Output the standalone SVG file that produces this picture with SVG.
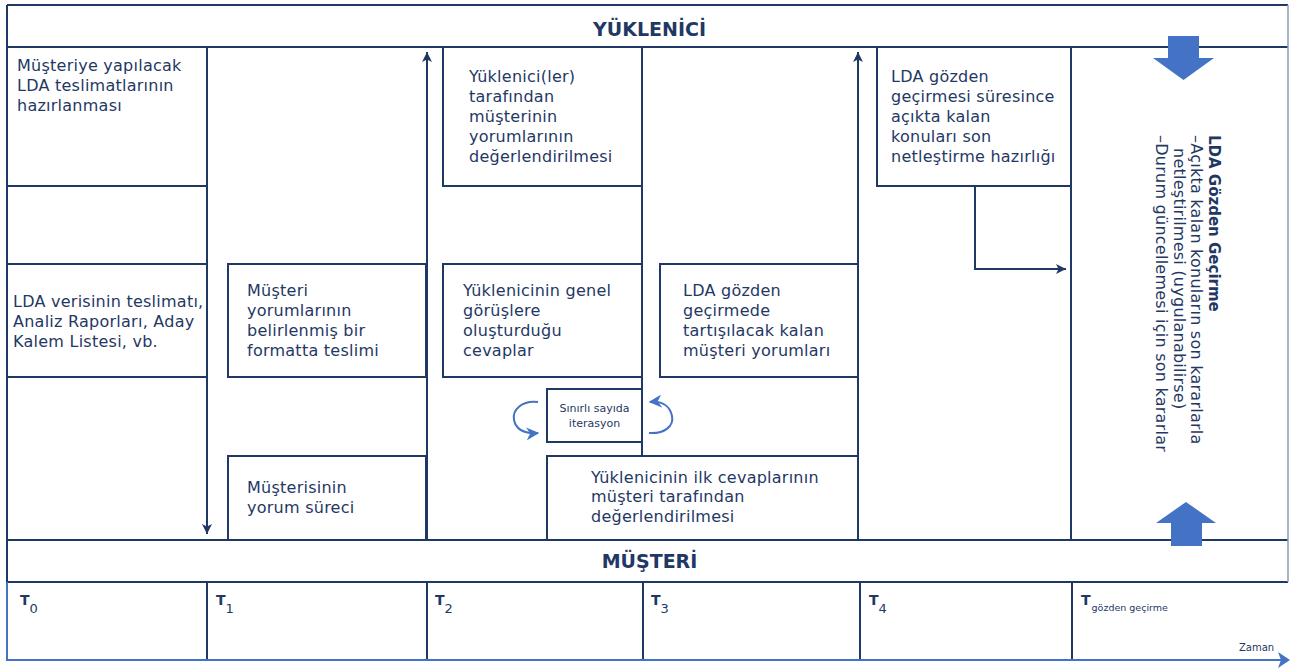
<svg xmlns="http://www.w3.org/2000/svg" width="1290" height="669" viewBox="0 0 1290 669">
  <style>
    .ln{stroke:#1f3864;stroke-width:2;fill:none}
    .lt{stroke:#8d9bb5;stroke-width:1.5;fill:none}
    .bl{stroke:#4472c4;stroke-width:2;fill:none}
    .bx{fill:#fff;stroke:#1f3864;stroke-width:2}
    .t{font-family:"DejaVu Sans",sans-serif;font-size:16px;fill:#1f3864;letter-spacing:0.25px}
    .sm{font-family:"DejaVu Sans",sans-serif;font-size:11px;fill:#1f3864}
    .hd{font-family:"DejaVu Sans",sans-serif;font-size:19px;font-weight:bold;fill:#1f3864;text-anchor:middle}
    .tb{font-family:"DejaVu Sans",sans-serif;font-size:14px;font-weight:bold;fill:#1f3864}
    .ts{font-family:"DejaVu Sans",sans-serif;font-size:13px;font-weight:normal}
    .tx{font-family:"DejaVu Sans",sans-serif;font-size:9.5px;font-weight:normal}
    .rv{font-family:"DejaVu Sans",sans-serif;font-size:16px;fill:#1f3864;letter-spacing:0.25px}
    .rb{font-family:"DejaVu Sans",sans-serif;font-size:15px;font-weight:bold;fill:#1f3864}
    .fill{fill:#4472c4}
  </style>
  <defs>
    <marker id="nav" viewBox="0 0 10 10" markerWidth="10" markerHeight="10" refX="10" refY="5" orient="auto" markerUnits="userSpaceOnUse">
      <path d="M0,0 L10,5 L0,10 L2.5,5 z" fill="#1f3864"/>
    </marker>
    <marker id="blu" viewBox="0 0 10 10" markerWidth="13" markerHeight="13" refX="9" refY="5" orient="auto" markerUnits="userSpaceOnUse">
      <path d="M0,0 L10,5 L0,10 L3,5 z" fill="#4472c4"/>
    </marker>
  </defs>

  <rect width="1290" height="669" fill="#fff"/>

  <!-- lane frame and time grid -->
  <g id="frame">
    <path class="ln" d="M7,5 H1288 M7,47 H1288 M7,5 V582 M7,540 H1288 M7,582 H1288"/>
    <path class="lt" d="M1288,5 V582"/>
    <path class="ln" d="M7,186 H207 M7,264 H207 M7,377 H207"/>
    <path class="ln" d="M642,186 V456 M1071,47 V540"/>
    <path class="ln" d="M207,582 V660 M427,582 V660 M643,582 V660 M860,582 V660 M1072,582 V660"/>
    <path class="bl" d="M7,582 V660 H1282"/>
    <path class="fill" d="M1290,660 L1278,652 L1281,660 L1278,668 z"/>
    <text class="sm" x="1239" y="651" style="font-size:10px">Zaman</text>
  </g>

  <!-- lane titles -->
  <g id="lane-yuklenici"><text class="hd" x="649.5" y="36">YÜKLENİCİ</text></g>
  <g id="lane-musteri"><text class="hd" x="649.5" y="568">MÜŞTERİ</text></g>

  <!-- time marks -->
  <g id="times">
    <text class="tb" x="20" y="605">T<tspan class="ts" dy="8">0</tspan></text>
    <text class="tb" x="216" y="605">T<tspan class="ts" dy="8">1</tspan></text>
    <text class="tb" x="435" y="605">T<tspan class="ts" dy="8">2</tspan></text>
    <text class="tb" x="651" y="605">T<tspan class="ts" dy="8">3</tspan></text>
    <text class="tb" x="869" y="605">T<tspan class="ts" dy="8">4</tspan></text>
    <text class="tb" x="1081" y="605">T<tspan class="tx" dx="1" dy="6">gözden geçirme</tspan></text>
  </g>

  <!-- process steps -->
  <g id="n-hazirlik">
    <rect class="bx" x="7" y="47" width="200" height="139"/>
    <text class="t" x="17" y="71">Müşteriye yapılacak</text>
    <text class="t" x="17" y="91">LDA teslimatlarının</text>
    <text class="t" x="17" y="111">hazırlanması</text>
  </g>
  <g id="n-teslimat">
    <rect class="bx" x="7" y="264" width="200" height="113"/>
    <text class="t" x="13" y="307">LDA verisinin teslimatı,</text>
    <text class="t" x="13" y="327">Analiz Raporları, Aday</text>
    <text class="t" x="13" y="347">Kalem Listesi, vb.</text>
  </g>
  <g id="n-format">
    <rect class="bx" x="228" y="264" width="198" height="113"/>
    <text class="t" x="247" y="296">Müşteri</text>
    <text class="t" x="247" y="316">yorumlarının</text>
    <text class="t" x="247" y="336">belirlenmiş bir</text>
    <text class="t" x="247" y="356">formatta teslimi</text>
  </g>
  <g id="n-yorum">
    <rect class="bx" x="228" y="456" width="198" height="84"/>
    <text class="t" x="247" y="493">Müşterisinin</text>
    <text class="t" x="247" y="513">yorum süreci</text>
  </g>
  <g id="n-degerlendirme">
    <rect class="bx" x="443" y="47" width="199" height="139"/>
    <text class="t" x="469" y="82">Yüklenici(ler)</text>
    <text class="t" x="469" y="102">tarafından</text>
    <text class="t" x="469" y="122">müşterinin</text>
    <text class="t" x="469" y="142">yorumlarının</text>
    <text class="t" x="469" y="162">değerlendirilmesi</text>
  </g>
  <g id="n-cevaplar">
    <rect class="bx" x="443" y="264" width="199" height="113"/>
    <text class="t" x="463" y="296">Yüklenicinin genel</text>
    <text class="t" x="463" y="316">görüşlere</text>
    <text class="t" x="463" y="336">oluşturduğu</text>
    <text class="t" x="463" y="356">cevaplar</text>
  </g>
  <g id="n-iterasyon">
    <rect class="bx" x="547" y="389" width="95" height="53"/>
    <text class="sm" x="594.5" y="412" text-anchor="middle">Sınırlı sayıda</text>
    <text class="sm" x="594.5" y="427" text-anchor="middle">iterasyon</text>
  </g>
  <g id="n-ilk-cevap">
    <rect class="bx" x="547" y="456" width="311" height="84"/>
    <text class="t" x="591" y="483">Yüklenicinin ilk cevaplarının</text>
    <text class="t" x="591" y="502">müşteri tarafından</text>
    <text class="t" x="591" y="522">değerlendirilmesi</text>
  </g>
  <g id="n-kalan">
    <rect class="bx" x="660" y="264" width="198" height="113"/>
    <text class="t" x="683" y="296">LDA gözden</text>
    <text class="t" x="683" y="316">geçirmede</text>
    <text class="t" x="683" y="336">tartışılacak kalan</text>
    <text class="t" x="683" y="356">müşteri yorumları</text>
  </g>
  <g id="n-netlestirme">
    <rect class="bx" x="877" y="47" width="194" height="139"/>
    <text class="t" x="891" y="82">LDA gözden</text>
    <text class="t" x="891" y="102">geçirmesi süresince</text>
    <text class="t" x="891" y="122">açıkta kalan</text>
    <text class="t" x="891" y="142">konuları son</text>
    <text class="t" x="891" y="162">netleştirme hazırlığı</text>
  </g>
  <g id="n-gozden-gecirme">
    <g transform="translate(1209,135) rotate(90)">
      <text class="rb" x="0" y="0">LDA Gözden Geçirme</text>
      <text class="rv" x="0" y="18">–Açıkta kalan konuların son kararlarla</text>
      <text class="rv" x="13" y="35">netleştirilmesi (uygulanabilirse)</text>
      <text class="rv" x="0" y="53">–Durum güncellemesi için son kararlar</text>
    </g>
  </g>

  <!-- connectors -->
  <g id="connectors">
    <path class="ln" d="M207,47 V534" marker-end="url(#nav)"/>
    <path class="ln" d="M427,540 V52" marker-end="url(#nav)"/>
    <path class="ln" d="M858,540 V52" marker-end="url(#nav)"/>
    <path class="ln" d="M975,186 V269 H1066" marker-end="url(#nav)"/>
    <path class="bl" d="M538,402 C522,400 512,410 514,420 C516,429 524,434 538,433" marker-end="url(#blu)"/>
    <path class="bl" d="M649,433 C665,434 674,426 672,416 C670,406 662,401 650,402" marker-end="url(#blu)"/>
    <polygon class="fill" points="1168,36 1199,36 1199,58 1214,58 1183.5,80 1153,58 1168,58"/>
    <polygon class="fill" points="1171,546 1202,546 1202,523 1216,523 1186,502 1156,523 1171,523"/>
  </g>
</svg>
